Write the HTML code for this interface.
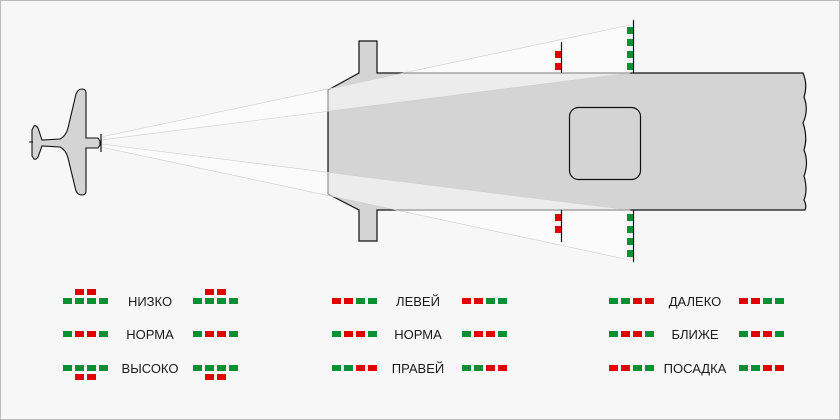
<!DOCTYPE html>
<html><head><meta charset="utf-8"><style>
html,body{margin:0;padding:0;background:#f7f7f7}
svg{display:block}
text{font-family:"Liberation Sans",sans-serif;font-size:13px;fill:#1a1a1a}
</style></head><body>
<svg width="840" height="420" viewBox="0 0 840 420" xmlns="http://www.w3.org/2000/svg">
<rect x="0.5" y="0.5" width="839" height="419" fill="#f7f7f7" stroke="#bbb"/>
<!-- deck -->
<path d="M328,90 L359,73 L359,41 L377,41 L377,73 L803,73 Q808,85 804,97 Q809,110 803,123 Q808,137 804,150 Q809,163 804,176 Q808,190 804,200 Q807,206 805,210 L377,210 L377,241 L359,241 L359,210 L328,194 Z" fill="#d4d4d4" stroke="#111" stroke-width="1.2"/>
<rect x="569.5" y="107.5" width="71" height="72" rx="9" fill="none" stroke="#111" stroke-width="1.2"/>
<!-- beams -->
<path d="M101,137 L630,25 L630,73 L101,140 Z" fill="#fff" fill-opacity="0.55" stroke="#ccc" stroke-width="0.6"/>
<path d="M101,147 L630,260 L630,210 L101,144 Z" fill="#fff" fill-opacity="0.55" stroke="#ccc" stroke-width="0.6"/>
<!-- light poles -->
<line x1="561.5" y1="42" x2="561.5" y2="73" stroke="#111" stroke-width="1.2"/>
<line x1="561.5" y1="210" x2="561.5" y2="242" stroke="#111" stroke-width="1.2"/>
<line x1="633.5" y1="20" x2="633.5" y2="73" stroke="#111" stroke-width="1.2"/>
<line x1="633.5" y1="210" x2="633.5" y2="262" stroke="#111" stroke-width="1.2"/>
<g fill="#e00000">
<rect x="555" y="51" width="6" height="7"/><rect x="555" y="63" width="6" height="7"/>
<rect x="555" y="214" width="6" height="7"/><rect x="555" y="226" width="6" height="7"/>
</g>
<g fill="#0a8f33">
<rect x="627" y="27" width="6" height="7"/><rect x="627" y="39" width="6" height="7"/><rect x="627" y="51" width="6" height="7"/><rect x="627" y="63" width="6" height="7"/>
<rect x="627" y="214" width="6" height="7"/><rect x="627" y="226" width="6" height="7"/><rect x="627" y="238" width="6" height="7"/><rect x="627" y="250" width="6" height="7"/>
</g>
<!-- plane -->
<path d="M86,138 L86,93 Q86,89 82,89 Q78,89 76,94 L68,128 Q66,136 60,139 L42,140 L38,128 Q36,125 34,126 L32,130 L32,156 L34,159 Q36,160 38,157 L42,146 L60,147 Q66,150 68,158 L76,191 Q78,195 82,195 Q86,195 86,191 L86,148 L98,148 L100,145 L100,141 L98,138 Z" fill="#d4d4d4" stroke="#111" stroke-width="1.1"/>
<line x1="101" y1="134" x2="101" y2="152" stroke="#111" stroke-width="1.2"/>
<line x1="29" y1="142" x2="33" y2="142" stroke="#111" stroke-width="1"/>

<!-- legend -->
<g id="sq">
<!-- group 1 -->
<g fill="#0a8f33">
<rect x="63" y="298" width="9" height="6"/><rect x="99" y="298" width="9" height="6"/><rect x="75" y="298" width="9" height="6"/><rect x="87" y="298" width="9" height="6"/>
<rect x="193" y="298" width="9" height="6"/><rect x="229" y="298" width="9" height="6"/><rect x="205" y="298" width="9" height="6"/><rect x="217" y="298" width="9" height="6"/>
<rect x="63" y="331" width="9" height="6"/><rect x="99" y="331" width="9" height="6"/>
<rect x="193" y="331" width="9" height="6"/><rect x="229" y="331" width="9" height="6"/>
<rect x="63" y="365" width="9" height="6"/><rect x="75" y="365" width="9" height="6"/><rect x="87" y="365" width="9" height="6"/><rect x="99" y="365" width="9" height="6"/>
<rect x="193" y="365" width="9" height="6"/><rect x="205" y="365" width="9" height="6"/><rect x="217" y="365" width="9" height="6"/><rect x="229" y="365" width="9" height="6"/>
</g>
<g fill="#e00000">
<rect x="75" y="289" width="9" height="6"/><rect x="87" y="289" width="9" height="6"/>
<rect x="205" y="289" width="9" height="6"/><rect x="217" y="289" width="9" height="6"/>
<rect x="75" y="331" width="9" height="6"/><rect x="87" y="331" width="9" height="6"/>
<rect x="205" y="331" width="9" height="6"/><rect x="217" y="331" width="9" height="6"/>
<rect x="75" y="374" width="9" height="6"/><rect x="87" y="374" width="9" height="6"/>
<rect x="205" y="374" width="9" height="6"/><rect x="217" y="374" width="9" height="6"/>
</g>
<!-- group 2 -->
<g fill="#e00000">
<rect x="332" y="298" width="9" height="6"/><rect x="344" y="298" width="9" height="6"/>
<rect x="462" y="298" width="9" height="6"/><rect x="474" y="298" width="9" height="6"/>
<rect x="344" y="331" width="9" height="6"/><rect x="356" y="331" width="9" height="6"/>
<rect x="474" y="331" width="9" height="6"/><rect x="486" y="331" width="9" height="6"/>
<rect x="356" y="365" width="9" height="6"/><rect x="368" y="365" width="9" height="6"/>
<rect x="486" y="365" width="9" height="6"/><rect x="498" y="365" width="9" height="6"/>
</g>
<g fill="#0a8f33">
<rect x="356" y="298" width="9" height="6"/><rect x="368" y="298" width="9" height="6"/>
<rect x="486" y="298" width="9" height="6"/><rect x="498" y="298" width="9" height="6"/>
<rect x="332" y="331" width="9" height="6"/><rect x="368" y="331" width="9" height="6"/>
<rect x="462" y="331" width="9" height="6"/><rect x="498" y="331" width="9" height="6"/>
<rect x="332" y="365" width="9" height="6"/><rect x="344" y="365" width="9" height="6"/>
<rect x="462" y="365" width="9" height="6"/><rect x="474" y="365" width="9" height="6"/>
</g>
<!-- group 3 -->
<g fill="#0a8f33">
<rect x="609" y="298" width="9" height="6"/><rect x="621" y="298" width="9" height="6"/>
<rect x="763" y="298" width="9" height="6"/><rect x="775" y="298" width="9" height="6"/>
<rect x="609" y="331" width="9" height="6"/><rect x="645" y="331" width="9" height="6"/>
<rect x="739" y="331" width="9" height="6"/><rect x="775" y="331" width="9" height="6"/>
<rect x="633" y="365" width="9" height="6"/><rect x="645" y="365" width="9" height="6"/>
<rect x="739" y="365" width="9" height="6"/><rect x="751" y="365" width="9" height="6"/>
</g>
<g fill="#e00000">
<rect x="633" y="298" width="9" height="6"/><rect x="645" y="298" width="9" height="6"/>
<rect x="739" y="298" width="9" height="6"/><rect x="751" y="298" width="9" height="6"/>
<rect x="621" y="331" width="9" height="6"/><rect x="633" y="331" width="9" height="6"/>
<rect x="751" y="331" width="9" height="6"/><rect x="763" y="331" width="9" height="6"/>
<rect x="609" y="365" width="9" height="6"/><rect x="621" y="365" width="9" height="6"/>
<rect x="763" y="365" width="9" height="6"/><rect x="775" y="365" width="9" height="6"/>
</g>
</g>
<g text-anchor="middle">
<text x="150" y="306">НИЗКО</text>
<text x="150" y="339">НОРМА</text>
<text x="150" y="373">ВЫСОКО</text>
<text x="418" y="306">ЛЕВЕЙ</text>
<text x="418" y="339">НОРМА</text>
<text x="418" y="373">ПРАВЕЙ</text>
<text x="695" y="306">ДАЛЕКО</text>
<text x="695" y="339">БЛИЖЕ</text>
<text x="695" y="373">ПОСАДКА</text>
</g>
</svg>
</body></html>
